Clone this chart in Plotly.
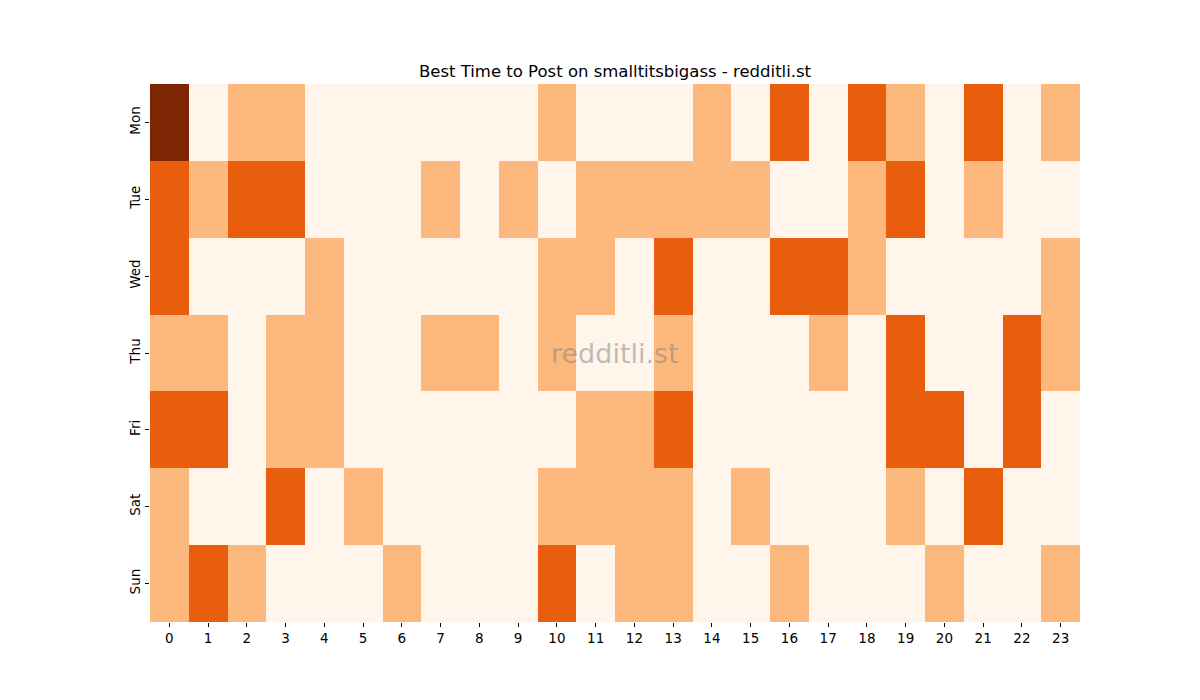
import plotly.graph_objects as go

days = ["Mon", "Tue", "Wed", "Thu", "Fri", "Sat", "Sun"]
hours = [str(h) for h in range(24)]

# activity level per hour (0 = lowest, 3 = highest)
mon = [3, 0, 1, 1, 0, 0, 0, 0, 0, 0, 1, 0, 0, 0, 1, 0, 2, 0, 2, 1, 0, 2, 0, 1]
tue = [2, 1, 2, 2, 0, 0, 0, 1, 0, 1, 0, 1, 1, 1, 1, 1, 0, 0, 1, 2, 0, 1, 0, 0]
wed = [2, 0, 0, 0, 1, 0, 0, 0, 0, 0, 1, 1, 0, 2, 0, 0, 2, 2, 1, 0, 0, 0, 0, 1]
thu = [1, 1, 0, 1, 1, 0, 0, 1, 1, 0, 1, 0, 0, 1, 0, 0, 0, 1, 0, 2, 0, 0, 2, 1]
fri = [2, 2, 0, 1, 1, 0, 0, 0, 0, 0, 0, 1, 1, 2, 0, 0, 0, 0, 0, 2, 2, 0, 2, 0]
sat = [1, 0, 0, 2, 0, 1, 0, 0, 0, 0, 1, 1, 1, 1, 0, 1, 0, 0, 0, 1, 0, 2, 0, 0]
sun = [1, 2, 1, 0, 0, 0, 1, 0, 0, 0, 2, 0, 1, 1, 0, 0, 1, 0, 0, 0, 1, 0, 0, 1]

z = [mon, tue, wed, thu, fri, sat, sun]

oranges = ["#fff5eb", "#fee6ce", "#fdd0a2", "#fdae6b", "#fd8d3c",
           "#f16913", "#d94801", "#a63603", "#7f2704"]
colorscale = [[i / 8, c] for i, c in enumerate(oranges)]

fig = go.Figure(go.Heatmap(
    z=z, x=hours, y=days,
    colorscale=colorscale, zmin=0, zmax=3,
    showscale=False, xgap=0, ygap=0,
))

font = "DejaVu Sans, sans-serif"
fig.update_layout(
    width=1200, height=700,
    margin=dict(l=142, r=128, t=76, b=86),
    plot_bgcolor="white", paper_bgcolor="white",
    font=dict(family=font, size=13.5, color="black"),
    title=dict(text="Best Time to Post on smalltitsbigass - redditli.st",
               x=0.5, xanchor="center", xref="paper",
               y=1, yref="paper", yanchor="bottom", pad=dict(b=7),
               font=dict(size=16.5, family=font, color="black")),
)
fig.update_xaxes(type="category", ticks="outside", ticklen=4, tickwidth=0.8,
                 tickcolor="black", showgrid=False, showline=False, zeroline=False)
fig.update_yaxes(type="category", autorange="reversed", ticks="outside", ticklen=4,
                 tickwidth=0.8, tickcolor="black", tickangle=-90,
                 showgrid=False, showline=False, zeroline=False)

fig.add_annotation(text="redditli.st", x=0.5, y=0.5, xref="paper", yref="paper",
                   showarrow=False, font=dict(size=27, family=font,
                                              color="rgba(128,128,128,0.5)"))

fig.write_html("out.html")
